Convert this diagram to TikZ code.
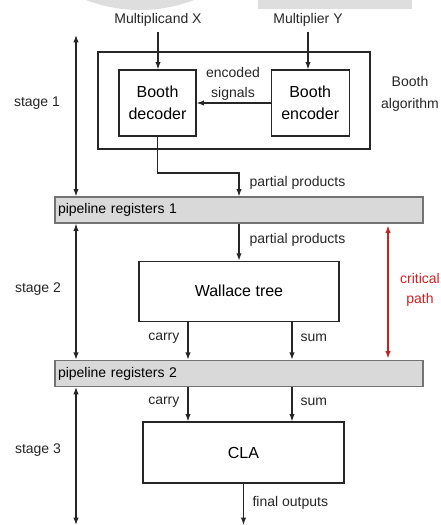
\documentclass[tikz,border=0pt]{standalone}
\usepackage{fontspec}
\setmainfont{Liberation Sans}
\usetikzlibrary{positioning, arrows.meta}
\definecolor{critred}{RGB}{204,34,34}

\begin{document}
\begin{tikzpicture}[
    x=0.75pt, y=-0.75pt,
    cell/.style={draw=black!85, rectangle, line width=0.9pt, font=\fontsize{12}{16.5}\selectfont, align=center, inner sep=0pt},
    preg/.style={draw=black!55, fill=black!15, rectangle, line width=0.9pt, minimum height=19.5pt, text width=271.5pt, inner xsep=2.25pt, inner ysep=0pt, align=left, font=\fontsize{10.5}{12}\selectfont},
    lbl/.style={font=\fontsize{10.5}{15.5}\selectfont, text=black!85, inner sep=1pt, align=center},
    arr/.style={-{Latex[length=5.5pt, width=4pt]}, line width=0.85pt, black!85},
    dbl/.style={{Latex[length=5.5pt, width=4pt]}-{Latex[length=5.5pt, width=4pt]}, line width=0.85pt, black!85}
]
    \useasboundingbox (0,0) rectangle (440,525);
    \clip (0,0) rectangle (440,525);

    % Grey shapes cut off at the top edge
    \fill[black!13] (140,-141) circle[radius=151];
    \fill[black!13] (258,0) rectangle (412,9);

    % Stage 1: Booth algorithm
    \node[lbl] (mx) at (158,20) {Multiplicand X};
    \node[lbl] (my) at (308,20) {Multiplier Y};
    \node[draw=black!85, line width=0.9pt, minimum width=204pt, minimum height=72.75pt] (booth) at (234,100.5) {};
    \node[cell, minimum width=57.75pt, minimum height=49.5pt] (dec) at (157.5,103) {Booth\\decoder};
    \node[cell, minimum width=58.5pt, minimum height=49.5pt, right=55.5pt of dec] (enc) {Booth\\encoder};
    \node[lbl] (sig) at (233,84) {encoded\\signals};
    \node[lbl, font=\fontsize{10.5}{16.5}\selectfont] (alg) at (410,94) {Booth\\algorithm};

    \draw[arr, shorten <=3pt] (mx.south) -- (mx.south |- dec.north);
    \draw[arr, shorten <=3pt] (my.south) -- (my.south |- enc.north);
    \draw[arr] (enc.west) -- (dec.east);

    % Pipeline registers and stage 2 / 3 blocks
    \node[preg] (preg1) at (239,210) {pipeline registers 1};
    \node[cell, minimum width=150pt, minimum height=45pt, below=27.75pt of preg1] (wal) {Wallace tree};
    \node[preg, below=28.5pt of wal] (preg2) {pipeline registers 2};
    \node[cell, minimum width=150.75pt, minimum height=45.75pt] (cla) at (243.5,452.5) {CLA};

    % Data flow
    \coordinate (pbend) at (239,173);
    \draw[arr] (dec.south) |- (pbend) -- (pbend |- preg1.north);
    \node[lbl, anchor=west] (pp1) at (248,183) {partial products};
    \draw[arr] (preg1.south) -- (wal.north);
    \node[lbl, anchor=west] (pp2) at (248,240) {partial products};

    \coordinate (cx) at (188,0);
    \coordinate (sx) at (292,0);
    \draw[arr] (wal.south -| cx) -- (preg2.north -| cx);
    \draw[arr] (wal.south -| sx) -- (preg2.north -| sx);
    \node[lbl, anchor=east] (c2) at (181,338) {carry};
    \node[lbl, anchor=west] (s2) at (299,338) {sum};
    \draw[arr] (preg2.south -| cx) -- (cla.north -| cx);
    \draw[arr] (preg2.south -| sx) -- (cla.north -| sx);
    \node[lbl, anchor=east] (c3) at (181,402) {carry};
    \node[lbl, anchor=west] (s3) at (299,402) {sum};

    \coordinate (fout) at (243.5,525);
    \draw[arr] (cla.south) -- (fout);
    \node[lbl, anchor=west] (fo) at (251,503) {final outputs};

    % Stage spans
    \coordinate (st) at (76,35);
    \coordinate (sb) at (76,525);
    \draw[dbl] (st) -- (st |- preg1.north);
    \draw[dbl] (st |- preg1.south) -- (st |- preg2.north);
    \draw[dbl] (st |- preg2.south) -- (sb);
    \node[lbl] (st1) at (37,103) {stage 1};
    \node[lbl] (st2) at (38,289) {stage 2};
    \node[lbl] (st3) at (38,450) {stage 3};

    % Critical path
    \coordinate (cp) at (388,0);
    \draw[dbl, critred, shorten <=1.5pt, shorten >=1pt] (preg1.south -| cp) -- (preg2.north -| cp);
    \node[lbl, text=critred] (crit) at (420,290) {critical\\path};
\end{tikzpicture}
\end{document}
